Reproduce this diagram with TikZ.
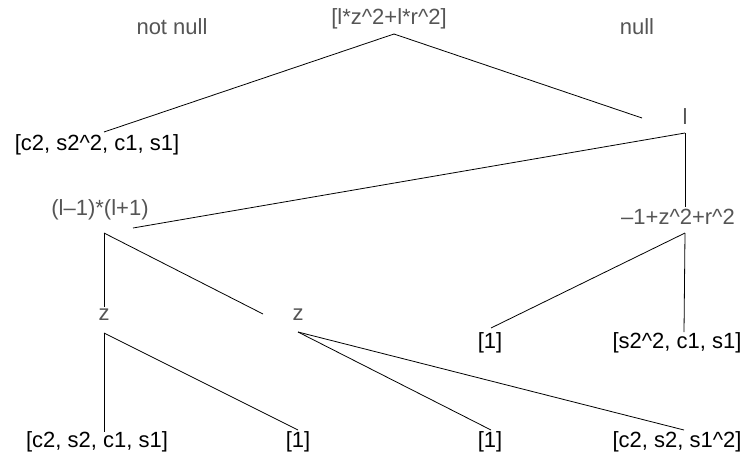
\documentclass[tikz,border=0pt]{standalone}
\usepackage{fontspec}
\setmainfont{Liberation Sans}
\usepackage{tikz}
\definecolor{trGrey}{RGB}{85,85,85}
\newcommand{\crt}{\textasciicircum}

\begin{document}
\begin{tikzpicture}[
  x=1pt,y=-1pt,
  every node/.style={font=\fontsize{22}{26}\selectfont,inner sep=0pt},
  inner/.style={text=trGrey},
  leaf/.style={text=black},
  branch/.style={line width=0.8pt,black},
]
\useasboundingbox (0,0) rectangle (746,463);
% labels and root
\node[inner] (nn)   at (172,27)  {not null};
\node[inner] (nu)   at (637,27)  {null};
\node[inner] (root) at (389,19)  {[l*z\crt2+l*r\crt2]};
% second level
\node[leaf]  (a)    at (97,145)  {[c2, s2\crt2, c1, s1]};
\node[inner] (l)    at (685,117) {l};
% third level
\node[inner] (pm)   at (100,210) {(l--1)*(l+1)};
\node[inner] (q)    at (678,217) {--1+z\crt2+r\crt2};
% fourth level
\node[inner] (z1)   at (104,315) {z};
\node[inner] (z2)   at (298,315) {z};
\node[leaf]  (m1)   at (490,343) {[1]};
\node[leaf]  (s)    at (677,343) {[s2\crt2, c1, s1]};
% leaves
\node[leaf]  (b1)   at (97,442)  {[c2, s2, c1, s1]};
\node[leaf]  (b2)   at (298,442) {[1]};
\node[leaf]  (b3)   at (490,442) {[1]};
\node[leaf]  (b4)   at (677,442) {[c2, s2, s1\crt2]};

\draw[branch] ([shift={(5,15)}]root.center) -- ([shift={(7,-13)}]a.center);
\draw[branch] ([shift={(5,15)}]root.center) -- ([shift={(-43,1)}]l.center);
\draw[branch] ([shift={(0,16)}]l.center) -- ([shift={(33,18)}]pm.center);
\draw[branch] ([shift={(0,16)}]l.center) -- ([shift={(7,-10)}]q.center);
\draw[branch] ([shift={(4,23)}]pm.center) -- ([shift={(0,-8)}]z1.center);
\draw[branch] ([shift={(4,23)}]pm.center) -- ([shift={(-35,-1)}]z2.center);
\draw[branch] ([shift={(7,16)}]q.center) -- ([shift={(1,-15)}]m1.center);
\draw[branch] ([shift={(7,16)}]q.center) -- ([shift={(7,-11)}]s.center);
\draw[branch] ([shift={(0,18)}]z1.center) -- ([shift={(7,-10)}]b1.center);
\draw[branch] ([shift={(0,18)}]z1.center) -- ([shift={(0,-12)}]b2.center);
\draw[branch] ([shift={(0,17)}]z2.center) -- ([shift={(1,-12)}]b3.center);
\draw[branch] ([shift={(0,17)}]z2.center) -- ([shift={(7,-12)}]b4.center);
\end{tikzpicture}
\end{document}
